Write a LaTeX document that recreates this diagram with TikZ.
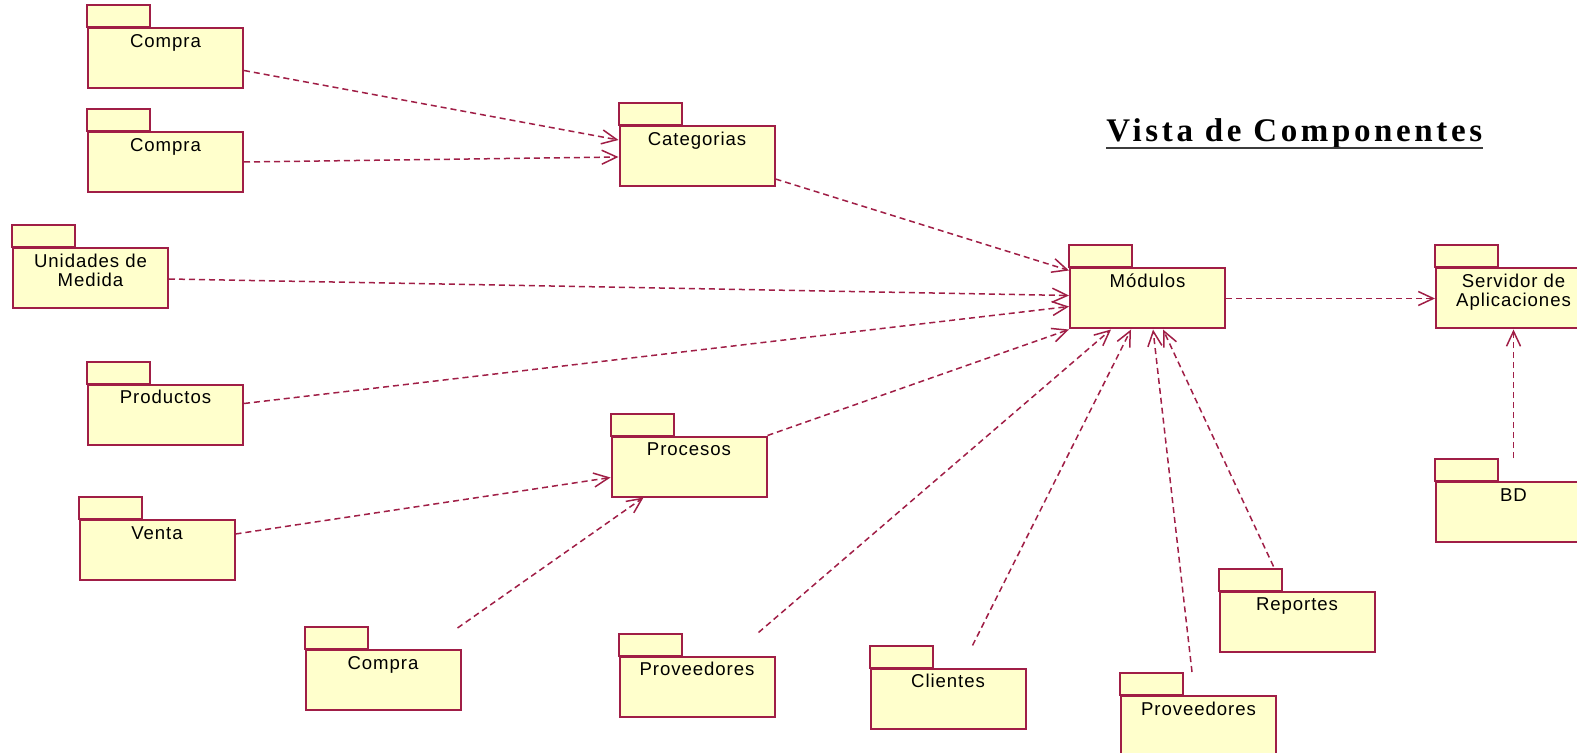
\documentclass[tikz,border=0pt]{standalone}
\usepackage{fontspec}
\setmainfont{Liberation Sans}
\newfontfamily\pkgfont[LetterSpace=5]{Liberation Sans}
\newfontfamily\ttlfont[LetterSpace=11]{Liberation Serif}
\usetikzlibrary{arrows.meta,calc}
\definecolor{pkgline}{RGB}{160,30,70}
\definecolor{pkgfill}{RGB}{255,255,204}
\definecolor{ttlline}{RGB}{60,60,60}
\newcommand\mkpkg[4]{%
  \node[pkg] (#1) at (#2,#3) {};
  \draw[pkgtab] (#1.north west) rectangle ++(63,-22);
  \node[pkgtext] (#1t) at ([yshift=-2pt]#1.north) {\rule{0pt}{8pt}#4};
}
\begin{document}
\begin{tikzpicture}[x=0.5pt,y=-0.5pt,
  pkg/.style={draw=pkgline, fill=pkgfill, line width=1pt, minimum width=77.5pt, minimum height=30pt, inner sep=0pt},
  pkgtab/.style={draw=pkgline, fill=pkgfill, line width=1pt},
  pkgtext/.style={anchor=north, inner sep=0pt, align=center, font=\pkgfont\fontsize{9.3}{9.5}\selectfont, text=black},
  dep/.style={draw=pkgline, line width=0.75pt, dash pattern=on 3pt off 2pt, -{Straight Barb[length=7.5pt,width=7pt]}}]
\useasboundingbox (0,0) rectangle (1577,753);
\clip (0,0) rectangle (1577,753);

\mkpkg{c1}{165.5}{58.5}{Compra}
\mkpkg{c2}{165.5}{162}{Compra}
\mkpkg{um}{90.5}{278}{Unidades de\\Medida}
\mkpkg{prod}{165.5}{414.5}{Productos}
\mkpkg{venta}{157}{550}{Venta}
\mkpkg{c3}{383}{680}{Compra}
\mkpkg{proc}{689}{466.5}{Procesos}
\mkpkg{cat}{697}{156}{Categorias}
\mkpkg{prov1}{697}{686.5}{Proveedores}
\mkpkg{cli}{948}{698.5}{Clientes}
\mkpkg{prov2}{1198.5}{726}{Proveedores}
\mkpkg{rep}{1297}{621.5}{Reportes}
\mkpkg{mod}{1147.5}{298.5}{Módulos}
\mkpkg{srv}{1513.5}{298.5}{Servidor de\\Aplicaciones}
\mkpkg{bd}{1513.5}{512}{BD}

\node[anchor=base west, inner sep=0pt, font=\ttlfont\bfseries\fontsize{16.5}{19}\selectfont] (ttl) at (1106,141.7) {Vista de Componentes};
\draw[line width=1pt, ttlline] ($(ttl.base west)+(0,6)$) -- ($(ttl.base east)+(0,6)$);

\draw[dep] ($(c1.north east)+(0,43)$) -- ($(cat.north west)+(0,15)$);
\draw[dep] (c2.east) -- ($(cat.north west)+(0,32)$);
\draw[dep] ($(cat.north east)+(0,54)$) -- ($(mod.north west)+(0,3)$);
\draw[dep] ($(um.north east)+(0,32)$) -- ($(mod.north west)+(0,28)$);
\draw[dep] ($(prod.north east)+(0,20)$) -- ($(mod.north west)+(0,39)$);
\draw[dep] (proc.north east) -- (mod.south west);
\draw[dep] ($(venta.north east)+(0,15)$) -- ($(proc.north west)+(0,42)$);
\draw[dep] ($(c3.north east)+(-4,-21)$) -- ($(proc.south west)+(33,0)$);
\draw[dep] ($(prov1.north east)+(-17,-23)$) -- ($(mod.south west)+(42,0)$);
\draw[dep] ($(cli.north west)+(103,-22)$) -- ($(mod.south west)+(62,0)$);
\draw[dep] ($(prov2.north west)+(72,-23)$) -- ($(mod.south west)+(84,0)$);
\draw[dep] ($(rep.north west)+(55,-24)$) -- ($(mod.south west)+(94,0)$);
\draw[dep] (mod.east) -- (srv.west);
\draw[dep] ($(bd.north)+(0,-23)$) -- (srv.south);
\end{tikzpicture}
\end{document}
